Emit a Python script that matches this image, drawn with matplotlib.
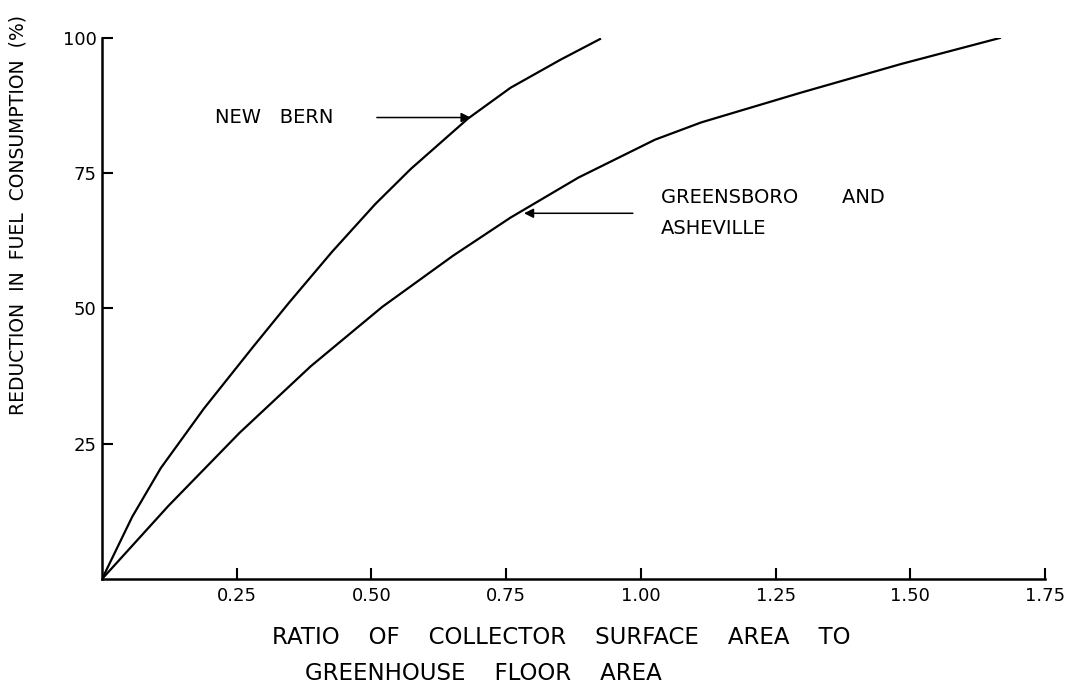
import matplotlib
matplotlib.use("Agg")
import matplotlib.pyplot as plt

# curves
new_bern_ratio = [0.0, 0.056, 0.109, 0.189, 0.281, 0.348, 0.427, 0.507, 0.573,
                  0.679, 0.758, 0.851, 0.924]
new_bern_pct = [0.0, 11.5, 20.5, 31.5, 43.0, 51.2, 60.5, 69.3, 75.8,
                85.1, 90.8, 96.0, 99.8]

gboro_ratio = [0.0, 0.123, 0.255, 0.387, 0.52, 0.652, 0.758, 0.884, 1.026,
               1.112, 1.297, 1.483, 1.666]
gboro_pct = [0.0, 13.5, 27.0, 39.3, 50.3, 59.8, 66.8, 74.2, 81.2,
             84.4, 89.9, 95.2, 100.0]

x_ticks = [0.25, 0.50, 0.75, 1.00, 1.25, 1.50, 1.75]
x_labels = ["0.25", "0.50", "0.75", "1.00", "1.25", "1.50", "1.75"]
y_ticks = [25, 50, 75, 100]
y_labels = ["25", "50", "75", "100"]

plt.rcParams['font.family'] = ['DejaVu Sans']

fig = plt.figure(figsize=(10.73, 6.87), dpi=100)
ax = fig.add_axes([0.0951, 0.1572, 0.8789, 0.7875])

ax.plot(new_bern_ratio, new_bern_pct, color='black', lw=1.6)
ax.plot(gboro_ratio, gboro_pct, color='black', lw=1.6)

ax.set_xlim(0, 1.75)
ax.set_ylim(0, 100)
ax.spines['top'].set_visible(False)
ax.spines['right'].set_visible(False)
ax.spines['left'].set_linewidth(1.8)
ax.spines['bottom'].set_linewidth(1.8)

ax.set_xticks(x_ticks)
ax.set_xticklabels(x_labels, fontsize=13)
ax.set_yticks(y_ticks)
ax.set_yticklabels(y_labels, fontsize=13)
ax.tick_params(axis='both', direction='in', length=8, width=1.5, color='black')
ax.tick_params(axis='x', pad=6)
ax.tick_params(axis='y', pad=4)

# y label placed by hand so it sits like the original
fig.text(18 / 1073, 1 - 215 / 687, "REDUCTION  IN  FUEL  CONSUMPTION  (%)",
         fontsize=13.5, rotation=90, ha='center', va='center')

# x label in two lines, as on the drawing
fig.text(272 / 1073, 1 - 638 / 687, "RATIO    OF    COLLECTOR    SURFACE    AREA    TO",
         fontsize=16.5, ha='left', va='center')
fig.text(305 / 1073, 1 - 673 / 687, "GREENHOUSE    FLOOR    AREA",
         fontsize=16.5, ha='left', va='center')

# curve labels with arrows
ax.annotate("", xy=(0.684, 85.3), xytext=(0.51, 85.3),
            arrowprops=dict(arrowstyle='-|>', color='black', lw=1.1,
                            mutation_scale=14, shrinkA=0, shrinkB=0))
ax.text(0.21, 85.3, "NEW   BERN", fontsize=14, ha='left', va='center')

ax.annotate("", xy=(0.783, 67.6), xytext=(0.985, 67.6),
            arrowprops=dict(arrowstyle='-|>', color='black', lw=1.1,
                            mutation_scale=14, shrinkA=0, shrinkB=0))
ax.text(1.037, 70.6, "GREENSBORO       AND", fontsize=14, ha='left', va='center')
ax.text(1.037, 64.8, "ASHEVILLE", fontsize=14, ha='left', va='center')

fig.savefig("out.png", dpi=100)
